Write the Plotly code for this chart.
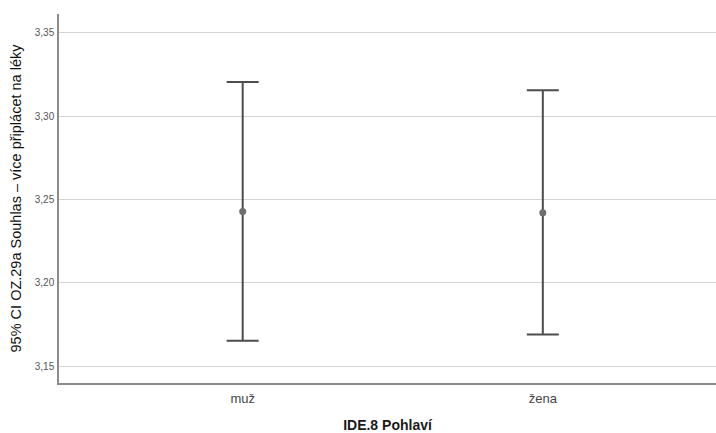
import plotly.graph_objects as go

categories = ["muž", "žena"]
means = [3.2428, 3.2421]
ci_low = [3.1651, 3.1689]
ci_high = [3.3206, 3.3156]
y_ticks = [3.15, 3.20, 3.25, 3.30, 3.35]

x_pos = list(range(len(categories)))
err_plus = [h - m for h, m in zip(ci_high, means)]
err_minus = [m - l for m, l in zip(means, ci_low)]

fig = go.Figure()
fig.add_trace(go.Scatter(
    x=x_pos, y=means, mode="markers",
    marker=dict(color="#6e6e6e", size=7),
    error_y=dict(type="data", symmetric=False, array=err_plus, arrayminus=err_minus,
                 color="#4d4d4d", thickness=2, width=16),
    showlegend=False,
))

fig.update_layout(
    width=716, height=433,
    margin=dict(l=59, r=0, t=14, b=50),
    paper_bgcolor="white", plot_bgcolor="white",
    separators=",.",
    font=dict(family="Liberation Sans, Arial, sans-serif", color="#333333"),
    xaxis=dict(
        range=[-0.612, 1.577], tickvals=x_pos, ticktext=categories,
        showgrid=False, zeroline=False, showline=True, linecolor="#8c8c8c", linewidth=1.5,
        ticks="", ticklabelstandoff=3, tickfont=dict(size=13, color="#444444"),
        title=dict(text="<b>IDE.8 Pohlaví</b>", font=dict(size=14, color="#1a1a1a"), standoff=18),
    ),
    yaxis=dict(
        range=[3.1398, 3.3614], tickvals=y_ticks, tickformat=".2f",
        showgrid=True, gridcolor="#d4d4d4", gridwidth=1,
        zeroline=False, showline=True, linecolor="#8c8c8c", linewidth=1.5,
        ticks="", ticklen=0, ticklabelstandoff=1, tickfont=dict(size=10, color="#555555"),
        title=dict(text="95% CI OZ.29a Souhlas – více připlácet na léky",
                   font=dict(size=14.5, color="#111111"), standoff=10),
    ),
)

fig.write_html("out.html")
